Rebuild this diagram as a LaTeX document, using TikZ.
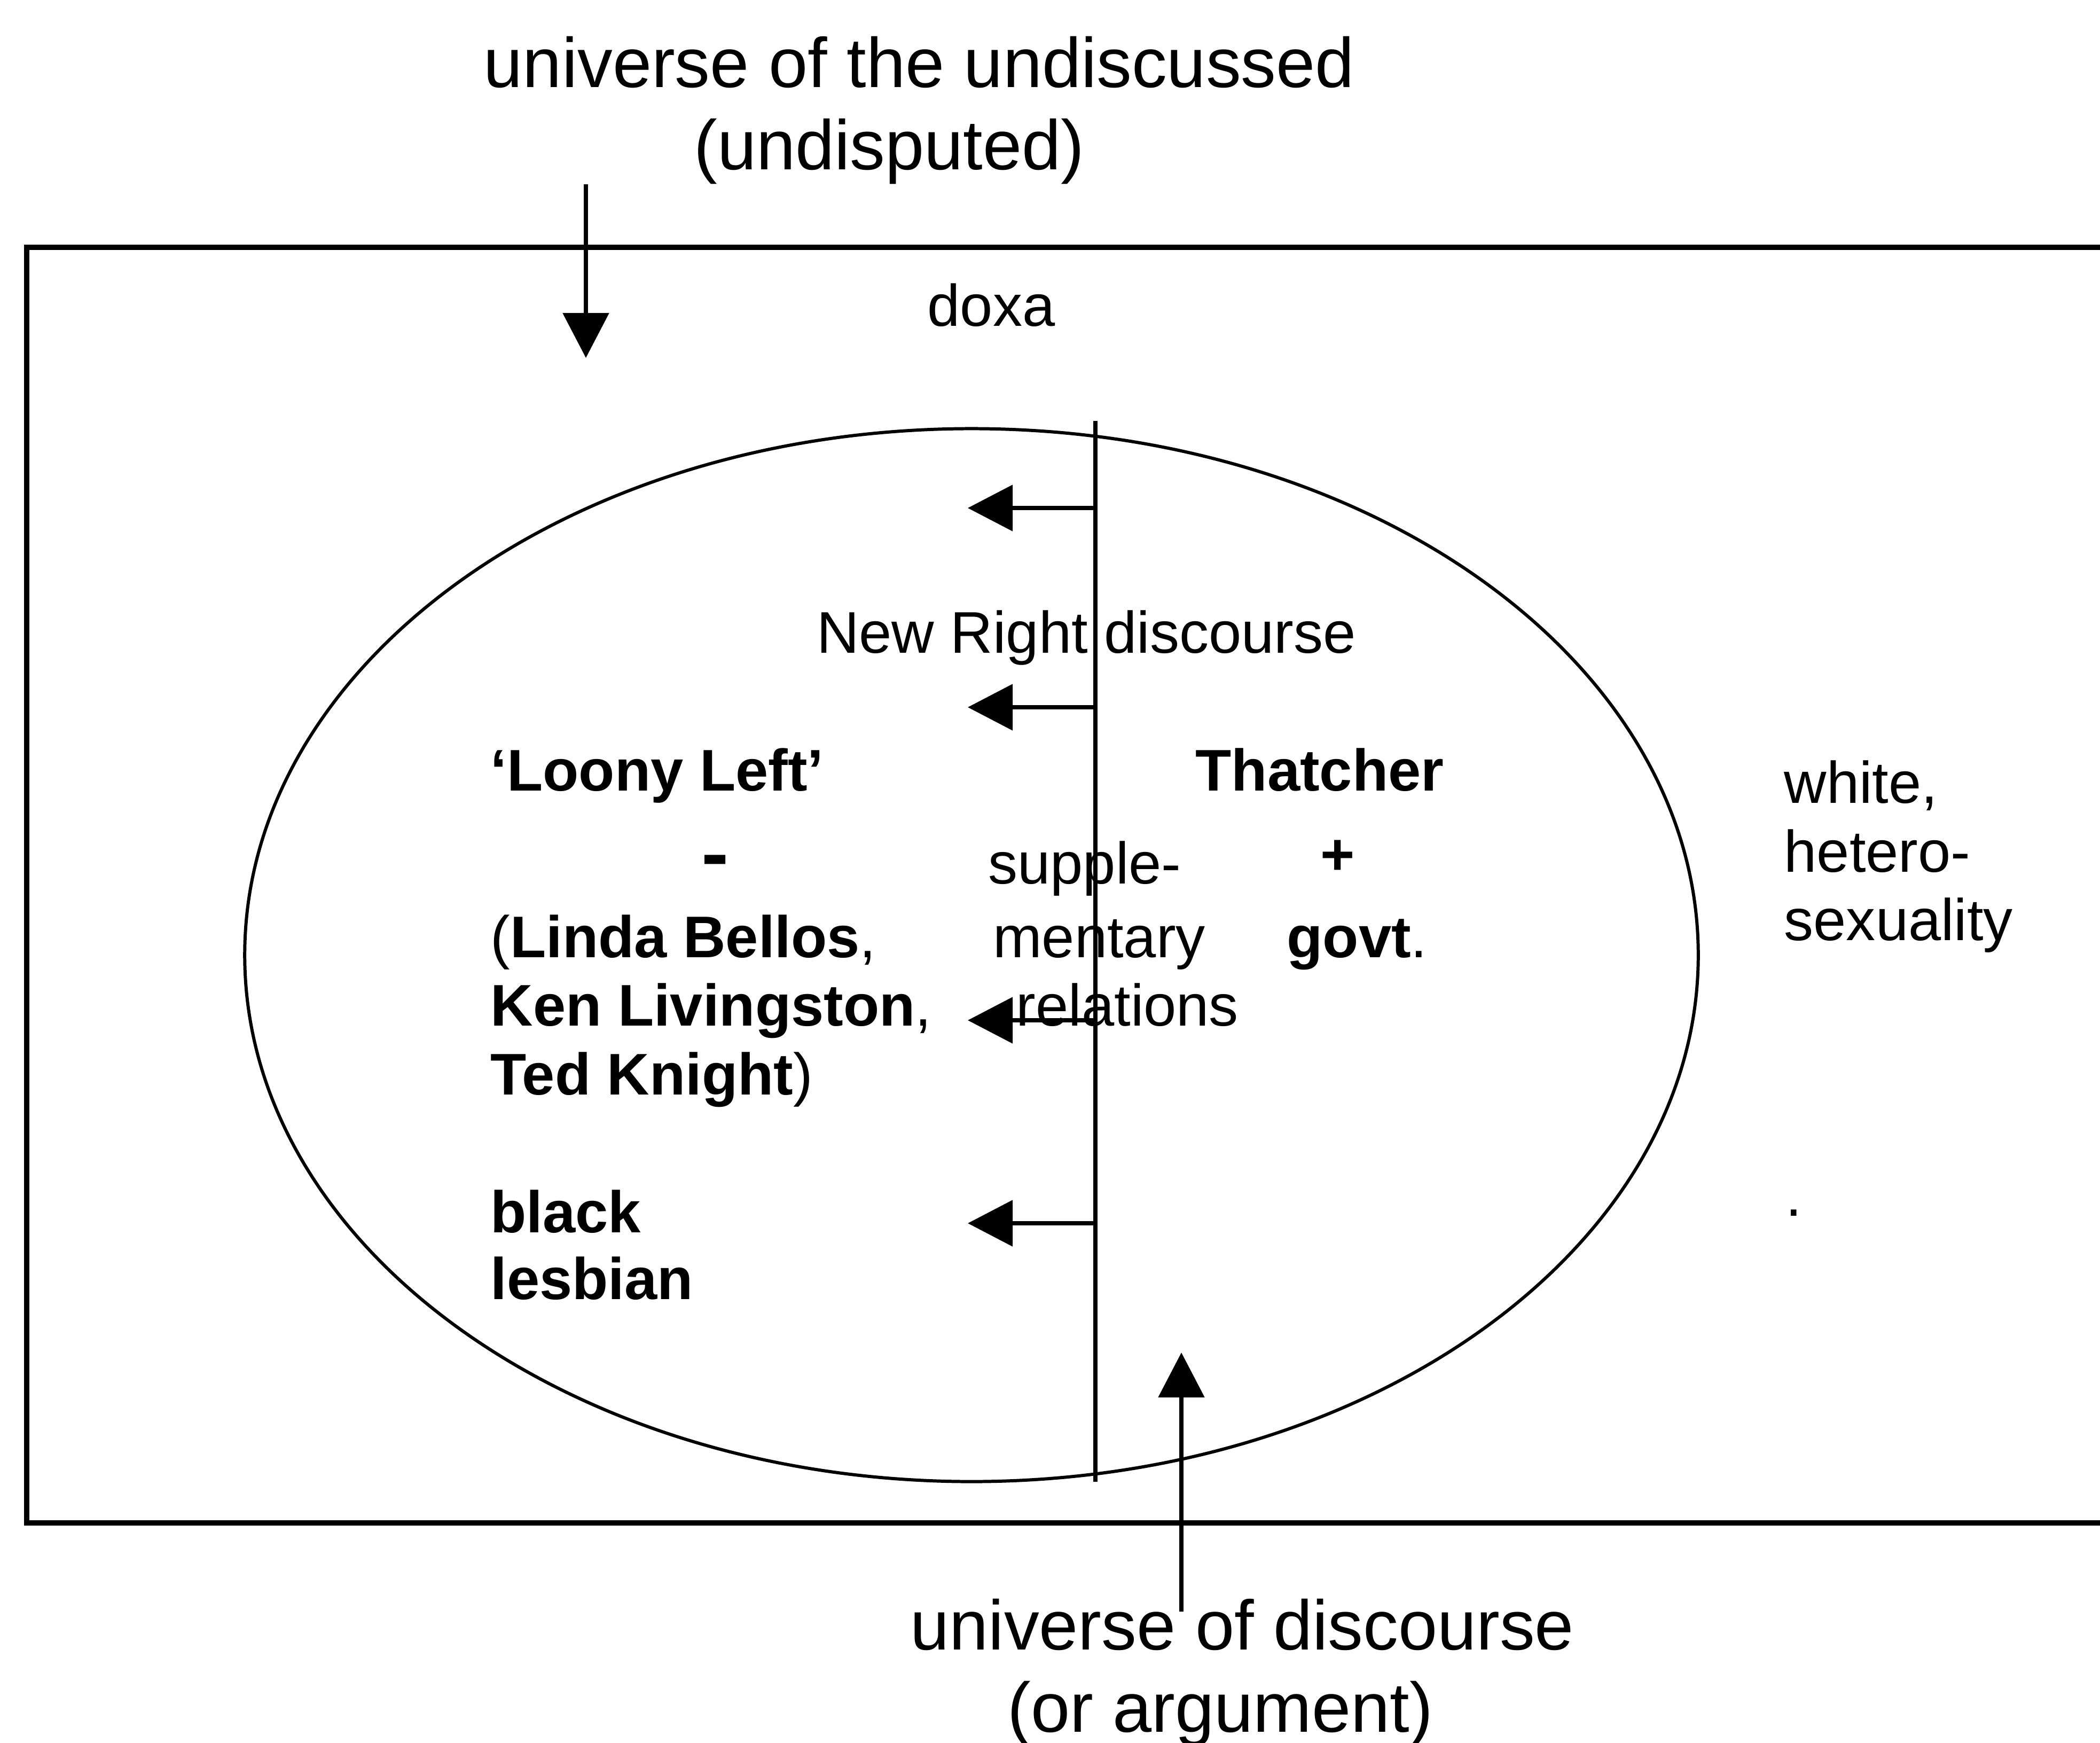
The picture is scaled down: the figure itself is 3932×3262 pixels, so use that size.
\documentclass[tikz,border=0pt]{standalone}
\usepackage{fontspec}
\setmainfont{Liberation Sans}
\usetikzlibrary{arrows.meta,shapes.geometric}
\begin{document}
\begin{tikzpicture}[x=0.01cm,y=-0.01cm,
  norm/.style={font=\fontsize{31.3}{36}\selectfont, inner sep=0pt},
  big/.style={font=\fontsize{37.4}{44}\selectfont, inner sep=0pt},
  frame/.style={line width=2.85pt},
  oval/.style={line width=1.7pt},
  divider/.style={line width=2.5pt},
  arr/.style={line width=2.5pt, -{Triangle[length=0.84cm,width=0.85cm]}}]
\useasboundingbox (0,0) rectangle (3932,3262);
% outer frame (doxa), open to the right
\begin{scope}
\clip (0,0) rectangle (3932,3262);
\draw[frame] (4100,463) -- (50,463) -- (50,2851) -- (4100,2851);
\end{scope}
% universe of discourse
\node[draw, ellipse, oval, minimum width=27.2cm, minimum height=19.7cm, inner sep=0pt] (uod) at (1819,1788) {};
% divider
\coordinate (vtop) at (2051,788);
\coordinate (vbot) at (2051,2774);
\draw[divider] (vtop) -- (vbot);
% arrows from divider
\coordinate (a1s) at (2051,951);  \coordinate (a1e) at (1812,951);
\coordinate (a2s) at (2051,1324); \coordinate (a2e) at (1812,1324);
\coordinate (a3s) at (2051,1910); \coordinate (a3e) at (1812,1910);
\coordinate (a4s) at (2051,2290); \coordinate (a4e) at (1812,2290);
\draw[arr] (a1s) -- (a1e);
\draw[arr] (a2s) -- (a2e);
\draw[arr] (a3s) -- (a3e);
\draw[arr] (a4s) -- (a4e);
% top label and arrow
\node[big, anchor=base] (t1) at (1721,163) {universe of the undiscussed};
\node[big, anchor=base] (t2) at (1665,317) {(undisputed)};
\coordinate (tas) at (1097,345);
\coordinate (tae) at (1097,670);
\draw[arr] (tas) -- (tae);
% bottom label and arrow
\node[big, anchor=base] (b1) at (2326,3088) {universe of discourse};
\node[big, anchor=base] (b2) at (2285,3242) {(or argument)};
\coordinate (bas) at (2212,3017);
\coordinate (bae) at (2212,2532);
\draw[arr] (bas) -- (bae);
% texts
\node[norm, anchor=base] (doxa) at (1856,610) {doxa};
\node[norm, anchor=base] (nrd) at (2034,1222) {New Right discourse};
\node[norm, anchor=base west] (loony) at (918,1480) {\textbf{‘Loony Left’}};
\node[norm, anchor=base] (minus) at (1339,1646) {\scalebox{1.4}[1.3]{\bfseries -}};
\node[norm, anchor=base west] (bellos) at (918,1792) {(\textbf{Linda Bellos},};
\node[norm, anchor=base west] (ken) at (918,1920) {\textbf{Ken Livingston},};
\node[norm, anchor=base west] (ted) at (918,2049) {\textbf{Ted Knight})};
\node[norm, anchor=base west] (black) at (918,2307) {\textbf{black}};
\node[norm, anchor=base west] (lesb) at (918,2432) {\textbf{lesbian}};
\node[norm, anchor=base] (thatcher) at (2471,1480) {\textbf{Thatcher}};
\node[norm, anchor=base] (plus) at (2505,1637) {\textbf{+}};
\node[norm, anchor=base] (govt) at (2541,1792) {\textbf{govt}.};
\node[norm, anchor=base] (supp) at (2031,1654) {supple-};
\node[norm, anchor=base] (ment) at (2058,1792) {mentary};
\node[norm, anchor=base] (rel) at (2111,1920) {relations};
\node[norm, anchor=base west] (white) at (3340,1503) {white,};
\node[norm, anchor=base west] (hetero) at (3340,1632) {hetero-};
\node[norm, anchor=base west] (sexu) at (3340,1760) {sexuality};
\node[norm, anchor=base] (dot) at (3359,2276) {.};
\end{tikzpicture}
\end{document}
